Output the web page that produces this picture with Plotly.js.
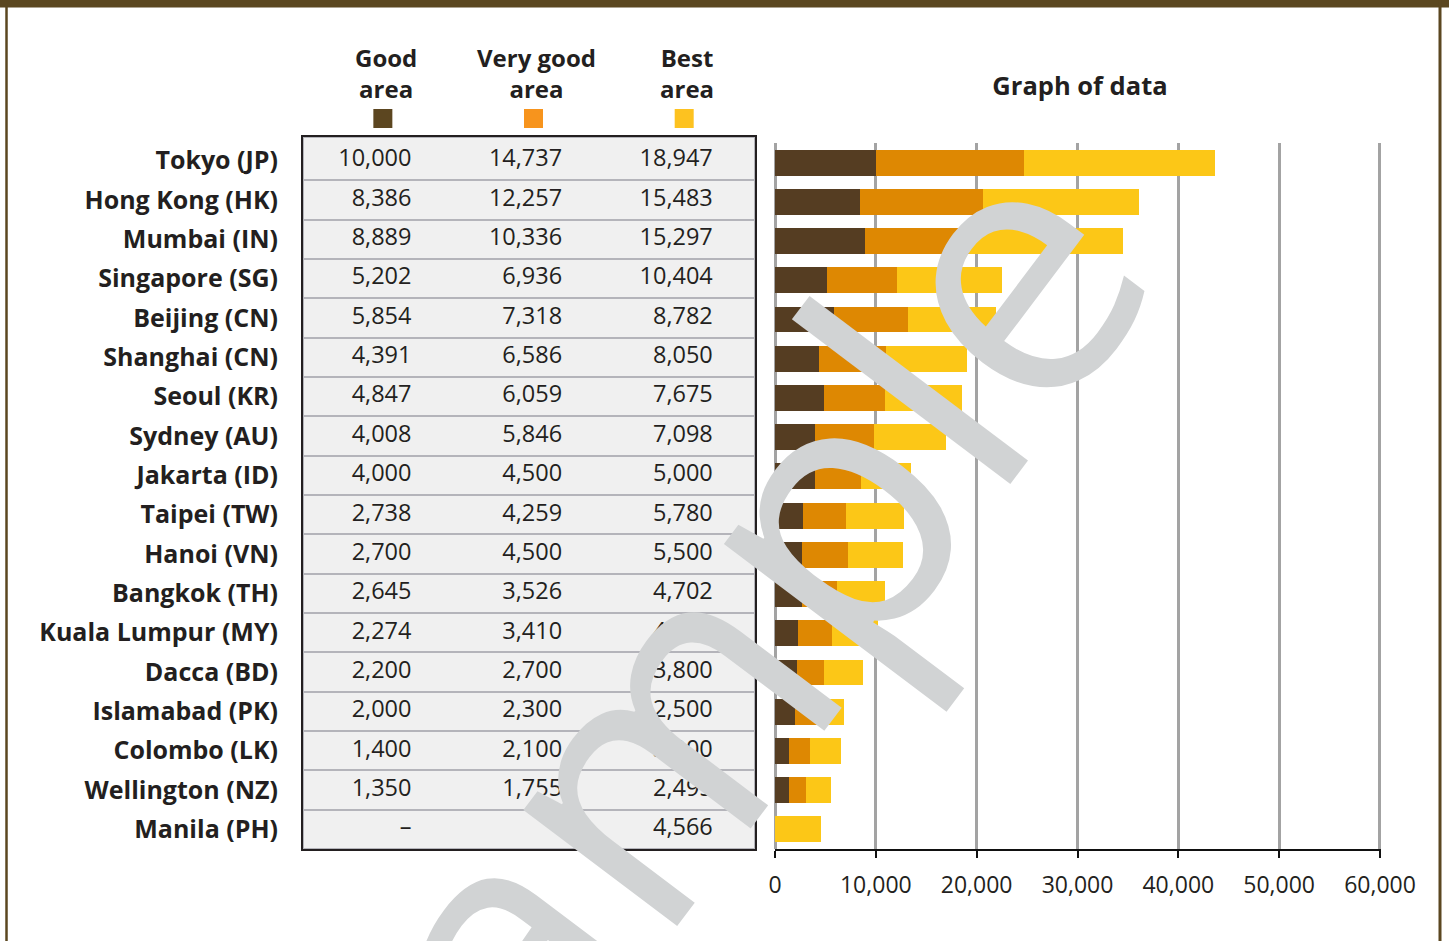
<!DOCTYPE html>
<html>
<head>
<meta charset="utf-8">
<script src="https://cdn.plot.ly/plotly-3.0.1.min.js"></script>
<style>html,body{margin:0;padding:0;background:#fff}#chart{width:1449px;height:941px}</style>
</head>
<body>
<div id="chart"></div>
<script>
const cities = ["Tokyo (JP)","Hong Kong (HK)","Mumbai (IN)","Singapore (SG)","Beijing (CN)","Shanghai (CN)","Seoul (KR)","Sydney (AU)","Jakarta (ID)","Taipei (TW)","Hanoi (VN)","Bangkok (TH)","Kuala Lumpur (MY)","Dacca (BD)","Islamabad (PK)","Colombo (LK)","Wellington (NZ)","Manila (PH)"];
const goodArea = [10000,8386,8889,5202,5854,4391,4847,4008,4000,2738,2700,2645,2274,2200,2000,1400,1350,null];
const veryGoodArea = [14737,12257,10336,6936,7318,6586,6059,5846,4500,4259,4500,3526,3410,2700,2300,2100,1755,null];
const bestArea = [18947,15483,15297,10404,8782,8050,7675,7098,5000,5780,5500,4702,4547,3800,2500,3000,2495,4566];
const seriesNames = ["Good area","Very good area","Best area"];
const headerLabels = ["Good<br>area","Very good<br>area","Best<br>area"];
const xTickVals = [0,10000,20000,30000,40000,50000,60000];
const chartTitle = "Graph of data";
const watermark = "Sample";

const barColors = ["#553d22","#de8802","#fcc717"];
const keyColors = ["#5c4620","#f7941d","#fdc220"];
const brown = "#5b4720";
const ink = "#231f20";
const W = 1449, H = 941;
const px = x => x / W;
const py = y => 1 - y / H;
const font = "'Open Sans', 'DejaVu Sans', sans-serif";
const fmt = v => (v === null || v === undefined) ? "\u2013" : v.toLocaleString("en-US");

const series = [goodArea, veryGoodArea, bestArea];
const traces = [];

// table cell backgrounds (first row slightly taller, like the reference)
traces.push({
  type: "bar", orientation: "h", xaxis: "x2", yaxis: "y2",
  y: cities, x: cities.map(() => 3),
  width: cities.map((c, i) => i === 0 ? 1.1 : 1),
  offset: cities.map((c, i) => i === 0 ? -0.6 : -0.5),
  marker: {color: "#f0f0f0", line: {color: "#b4b4ba", width: 2}},
  hoverinfo: "skip", showlegend: false
});
// table numbers
series.forEach((s, i) => {
  traces.push({
    type: "scatter", mode: "text", xaxis: "x2", yaxis: "y2",
    y: cities, x: cities.map(() => i + 0.72),
    text: s.map(fmt), textposition: "middle left",
    textfont: {family: font, size: 23.5, color: ink},
    cliponaxis: false, hoverinfo: "skip", showlegend: false
  });
});
// stacked bars
series.forEach((s, i) => {
  traces.push({
    type: "bar", orientation: "h", xaxis: "x", yaxis: "y",
    y: cities, x: s, name: seriesNames[i],
    marker: {color: barColors[i], line: {width: 0}},
    hoverinfo: "x+name"
  });
});

const annotations = [];
headerLabels.forEach((t, i) => {
  annotations.push({
    text: t, xref: "x2", x: i + 0.55, yref: "paper", y: py(72.5),
    xanchor: "center", yanchor: "middle", showarrow: false, align: "center",
    font: {family: font, size: 24, weight: 700, color: ink}
  });
});
annotations.push({
  text: watermark, xref: "paper", yref: "paper", x: px(682), y: py(687),
  xanchor: "center", yanchor: "middle", showarrow: false, textangle: -53,
  font: {family: font, size: 360, color: "#d1d3d4"}
});

const shapes = [];
keyColors.forEach((c, i) => {
  shapes.push({
    type: "rect", xref: "x2", xsizemode: "pixel", xanchor: i + 0.53, x0: -9.5, x1: 9.5,
    yref: "paper", y0: py(128), y1: py(109),
    fillcolor: c, line: {width: 0}
  });
});
shapes.push({type: "rect", xref: "paper", yref: "paper", x0: 0, x1: 1, y0: py(7.5), y1: 1, fillcolor: brown, line: {width: 0}, layer: "above"});
shapes.push({type: "line", xref: "paper", yref: "paper", x0: px(6.5), x1: px(6.5), y0: 0, y1: 1, line: {color: brown, width: 2.5}, layer: "above"});
shapes.push({type: "line", xref: "paper", yref: "paper", x0: px(1440), x1: px(1440), y0: 0, y1: 1, line: {color: brown, width: 3}, layer: "above"});

const layout = {
  width: W, height: H,
  margin: {l: 0, r: 0, t: 0, b: 0, pad: 0},
  paper_bgcolor: "#ffffff", plot_bgcolor: "rgba(0,0,0,0)",
  showlegend: false, barmode: "stack", bargap: 0.34,
  font: {family: font, color: ink},
  title: {
    text: chartTitle, x: px(1080), xanchor: "center", y: py(86), yanchor: "middle",
    font: {family: font, size: 25.5, weight: 700, color: ink}
  },
  xaxis: {
    domain: [px(775), px(1381)], anchor: "y", range: [0, 60100],
    tickvals: xTickVals, tickformat: ",d",
    showgrid: true, gridcolor: "#a3a3a3", gridwidth: 3,
    zeroline: true, zerolinecolor: "#a3a3a3", zerolinewidth: 3,
    showline: true, linecolor: "#111", linewidth: 2,
    ticks: "outside", ticklen: 7, tickwidth: 2, tickcolor: "#111",
    ticklabelstandoff: 7,
    tickfont: {family: font, size: 23, color: ink}, fixedrange: true
  },
  yaxis: {
    domain: [py(849), py(143)], anchor: "x", type: "category",
    categoryorder: "array", categoryarray: cities, range: [17.5, -0.5],
    showticklabels: false, showgrid: false, zeroline: false, showline: false, fixedrange: true
  },
  xaxis2: {
    domain: [px(303), px(755)], anchor: "y2", range: [0, 3],
    showgrid: false, zeroline: false, showticklabels: false,
    showline: true, mirror: true, linecolor: ink, linewidth: 2, fixedrange: true
  },
  yaxis2: {
    domain: [py(849), py(137)], anchor: "x2", type: "category",
    categoryorder: "array", categoryarray: cities, range: [17.5, -0.6],
    showgrid: false, zeroline: false,
    showline: true, mirror: true, linecolor: ink, linewidth: 2,
    ticks: "", ticklabelstandoff: 18,
    tickfont: {family: font, size: 25, weight: 700, color: ink}, fixedrange: true
  },
  annotations: annotations,
  shapes: shapes
};

Plotly.newPlot("chart", traces, layout, {displayModeBar: false, staticPlot: true});
</script>
</body>
</html>
